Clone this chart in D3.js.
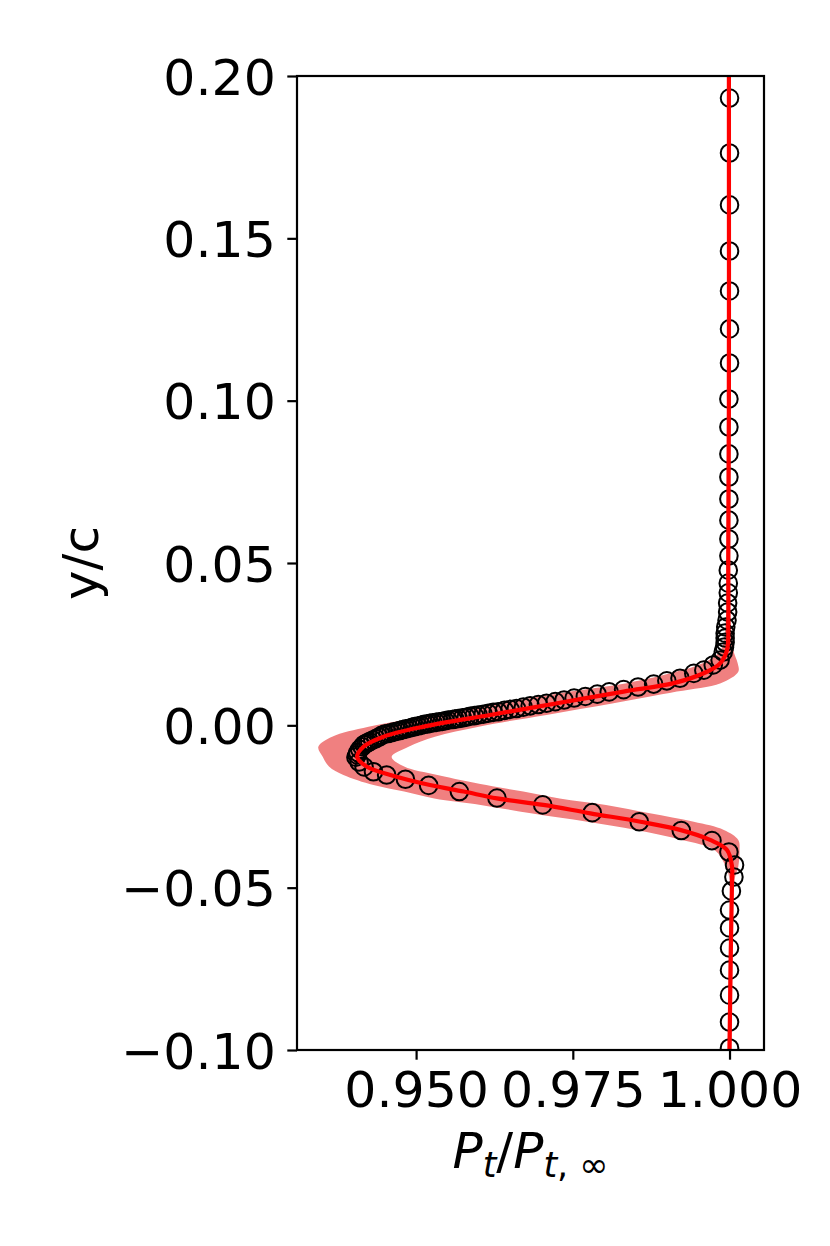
<!DOCTYPE html>
<meta charset="utf-8">
<script src="https://d3js.org/d3.v7.min.js"></script>
<style>
  body { margin: 0; background: #fff; }
  text { font-family: "DejaVu Sans", sans-serif; }
</style>
<div id="chart"></div>
<script>

// probe measurements (open circles): y/c and Pt/Pt,inf
var probeY = [0.1932, 0.1763, 0.1603, 0.1461, 0.1338, 0.1221, 0.1116, 0.1005, 0.0919, 0.0836,
  0.0765, 0.0697, 0.0632, 0.0574, 0.0522, 0.0478, 0.0438, 0.0408, 0.0377, 0.0349,
  0.0324, 0.0303, 0.0284, 0.0269, 0.0256, 0.0241, 0.0226, 0.0201, 0.0186, 0.0170,
  0.0160, 0.0145, 0.0137, 0.0127, 0.0118, 0.0110, 0.0103, 0.0096, 0.0089, 0.0084,
  0.0078, 0.0073, 0.0068, 0.0064, 0.0060, 0.0056, 0.0052, 0.0049, 0.0046, 0.0042,
  0.0040, 0.0037, 0.0034, 0.0032, 0.0030, 0.0028, 0.0025, 0.0023, 0.0021, 0.0019,
  0.0018, 0.0016, 0.0014, 0.0012, 0.0011, 0.0009, 0.0008, 0.0006, 0.0004, 0.0003,
  0.0000, -0.0002, -0.0004, -0.0006, -0.0009, -0.0011, -0.0013, -0.0016, -0.0018, -0.0020,
  -0.0023, -0.0025, -0.0027, -0.0031, -0.0036, -0.0041, -0.0045, -0.0050, -0.0053, -0.0056,
  -0.0059, -0.0066, -0.0074, -0.0084, -0.0091, -0.0098, -0.0113, -0.0128, -0.0143, -0.0153,
  -0.0166, -0.0185, -0.0204, -0.0224, -0.0245, -0.0269, -0.0297, -0.0324, -0.0355, -0.0390,
  -0.0430, -0.0467, -0.0510, -0.0569, -0.0624, -0.0686, -0.0754, -0.0831, -0.0914, -0.0994];
var probePt = [1.0000, 1.0000, 1.0000, 1.0000, 1.0000, 1.0000, 1.0000, 0.9999, 0.9999, 0.9999,
  0.9999, 0.9999, 0.9999, 0.9999, 0.9999, 0.9998, 0.9998, 0.9998, 0.9997, 0.9997,
  0.9996, 0.9994, 0.9993, 0.9993, 0.9993, 0.9992, 0.9990, 0.9985, 0.9974, 0.9959,
  0.9943, 0.9921, 0.9900, 0.9879, 0.9854, 0.9831, 0.9808, 0.9789, 0.9770, 0.9752,
  0.9736, 0.9722, 0.9708, 0.9695, 0.9682, 0.9671, 0.9660, 0.9650, 0.9641, 0.9631,
  0.9623, 0.9615, 0.9607, 0.9599, 0.9593, 0.9586, 0.9580, 0.9574, 0.9567, 0.9562,
  0.9558, 0.9551, 0.9546, 0.9542, 0.9537, 0.9532, 0.9527, 0.9522, 0.9518, 0.9513,
  0.9508, 0.9503, 0.9498, 0.9494, 0.9489, 0.9484, 0.9479, 0.9474, 0.9470, 0.9465,
  0.9460, 0.9455, 0.9450, 0.9445, 0.9441, 0.9436, 0.9431, 0.9426, 0.9423, 0.9420,
  0.9417, 0.9414, 0.9410, 0.9407, 0.9406, 0.9404, 0.9409, 0.9417, 0.9432, 0.9453,
  0.9483, 0.9520, 0.9569, 0.9629, 0.9702, 0.9781, 0.9856, 0.9923, 0.9972, 0.9999,
  1.0008, 1.0007, 1.0003, 1.0000, 1.0000, 1.0000, 1.0000, 1.0000, 1.0000, 1.0000];

// computed mean profile (red line) and its spread (shaded band)
var meanY = [0.20, 0.10, 0.05, 0.0324, 0.0232, 0.0191, 0.0165, 0.0130, 0.0104, 0.0068,
  0.0032, -0.0004, -0.0035, -0.0066, -0.0097, -0.0127, -0.0153, -0.0184, -0.0204, -0.0225,
  -0.0245, -0.0271, -0.0297, -0.0322, -0.0353, -0.0384, -0.0435, -0.0476, -0.0700, -0.10];
var meanPt = [0.9999, 0.9999, 0.9998, 0.9998, 0.9996, 0.9985, 0.9964, 0.9911, 0.9831, 0.9725,
  0.9618, 0.9512, 0.9448, 0.9416, 0.9406, 0.9421, 0.9459, 0.9522, 0.9576, 0.9629,
  0.9703, 0.9778, 0.9858, 0.9921, 0.9969, 0.9996, 1.0004, 1.0004, 1.0002, 1.0000];
var spread = [0.0003, 0.0003, 0.0003, 0.0004, 0.0010, 0.0028, 0.0050, 0.0075, 0.0085, 0.0090,
  0.0090, 0.0088, 0.0082, 0.0072, 0.0055, 0.0060, 0.0075, 0.0090, 0.0095, 0.0100,
  0.0100, 0.0095, 0.0085, 0.0070, 0.0045, 0.0020, 0.0010, 0.0004, 0.0003, 0.0003];

var xTicks = [0.950, 0.975, 1.000];
var yTicks = [0.20, 0.15, 0.10, 0.05, 0.00, -0.05, -0.10];

var W = 830, H = 1246;
var margin = {top: 76, right: 764, bottom: 1050, left: 297};

var svg = d3.select("#chart").append("svg")
    .attr("width", W)
    .attr("height", H);

var x = d3.scaleLinear().domain([0.9310, 1.0055]).range([margin.left, margin.right]);
var y = d3.scaleLinear().domain([-0.10, 0.20]).range([margin.bottom, margin.top]);

svg.append("clipPath")
    .attr("id", "clip")
    .append("rect")
    .attr("x", margin.left).attr("y", margin.top)
    .attr("width", margin.right - margin.left).attr("height", margin.bottom - margin.top);

var plot = svg.append("g").attr("clip-path", "url(#clip)");

var meanData = meanY.map(function(v, i) { return {y: v, m: meanPt[i], s: spread[i]}; });

// band
var band = d3.area()
    .curve(d3.curveCatmullRom)
    .y(function(d) { return y(d.y); })
    .x0(function(d) { return x(d.m - d.s); })
    .x1(function(d) { return x(d.m + d.s); });

plot.append("path")
    .datum(meanData)
    .attr("d", band)
    .attr("fill", "#f08080");

// probe circles
plot.selectAll("circle")
    .data(probeY.map(function(v, i) { return [v, probePt[i]]; }))
    .enter().append("circle")
    .attr("cx", function(d) { return x(d[1]); })
    .attr("cy", function(d) { return y(d[0]); })
    .attr("r", 8.8)
    .attr("fill", "none")
    .attr("stroke", "black")
    .attr("stroke-width", 2);

// mean line
var line = d3.line()
    .curve(d3.curveCatmullRom)
    .x(function(d) { return x(d.m); })
    .y(function(d) { return y(d.y); });

plot.append("path")
    .datum(meanData)
    .attr("d", line)
    .attr("fill", "none")
    .attr("stroke", "#ff0000")
    .attr("stroke-width", 4.2);

// axes
var xAxis = svg.append("g")
    .attr("transform", "translate(0," + margin.bottom + ")")
    .call(d3.axisBottom(x).tickValues(xTicks).tickFormat(d3.format(".3f"))
      .tickSizeInner(9.7).tickSizeOuter(0).tickPadding(9.7));
var yAxis = svg.append("g")
    .attr("transform", "translate(" + margin.left + ",0)")
    .call(d3.axisLeft(y).tickValues(yTicks).tickFormat(function(d) { return d3.format(".2f")(d).replace("-", "\u2212"); })
      .tickSizeInner(9.7).tickSizeOuter(0).tickPadding(11.5));

[xAxis, yAxis].forEach(function(a) {
  a.select(".domain").remove();
  a.selectAll(".tick line").attr("stroke", "black").attr("stroke-width", 2.2);
  a.selectAll(".tick text").attr("fill", "black")
    .style("font-family", "DejaVu Sans").style("font-size", "50.5px");
});
xAxis.selectAll(".tick text").attr("dy", null).attr("y", 9.7 + 9.7 + 37.5);
yAxis.selectAll(".tick text").attr("dy", "0.36em");

// frame
svg.append("rect")
    .attr("x", margin.left).attr("y", margin.top)
    .attr("width", margin.right - margin.left).attr("height", margin.bottom - margin.top)
    .attr("fill", "none")
    .attr("stroke", "black")
    .attr("stroke-width", 2.2);

// axis labels
svg.append("text")
    .attr("transform", "translate(98," + ((margin.top + margin.bottom) / 2) + ") rotate(-90)")
    .attr("text-anchor", "middle")
    .style("font-size", "50px")
    .text("y/c");

var xl = svg.append("text")
    .attr("x", (margin.left + margin.right) / 2)
    .attr("y", 1168)
    .attr("text-anchor", "middle")
    .style("font-size", "50px");
xl.append("tspan").style("font-style", "italic").text("P");
xl.append("tspan").style("font-style", "italic").style("font-size", "35px").attr("dy", 9).text("t");
xl.append("tspan").attr("dy", -9).text("/");
xl.append("tspan").style("font-style", "italic").text("P");
var sub = xl.append("tspan").style("font-size", "35px").attr("dy", 9);
sub.append("tspan").style("font-style", "italic").text("t");
sub.append("tspan").text(", \u221E");

</script>
